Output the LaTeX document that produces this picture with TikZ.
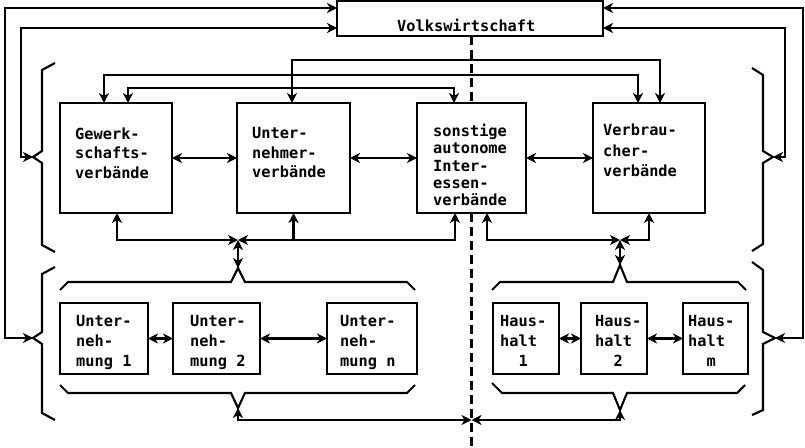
\documentclass[tikz,border=0pt]{standalone}
\usepackage{fontspec}
\newfontfamily\boxfont{DejaVu Sans Mono}[BoldFont={DejaVu Sans Mono Bold}]
\usetikzlibrary{arrows.meta,calc}
\tikzset{
  lw/.style={line width=2.1pt},
  box/.style={draw,lw,rectangle,inner sep=0pt,outer sep=0pt},
  txt/.style={inner sep=0pt,anchor=north west,align=left,font=\boxfont\bfseries\fontsize{15.3}{19.5}\selectfont},
  conn/.style={lw,line join=miter},
  dashline/.style={lw,dash pattern=on 9pt off 5pt},
}
\begin{document}
\begin{tikzpicture}[x=1pt,y=-1pt,>={Stealth[length=10pt,width=10pt,inset=3pt]}]
\useasboundingbox (0,0) rectangle (805,447);
% boxes
\node[box,minimum width=266pt,minimum height=35pt] (vw) at (470,18.5) {};
\node[box,minimum width=112pt,minimum height=110pt] (gew) at (116,158) {};
\node[box,minimum width=113pt,minimum height=110pt] (unt) at (293.5,158) {};
\node[box,minimum width=109pt,minimum height=110pt] (son) at (471.5,158) {};
\node[box,minimum width=112pt,minimum height=110pt] (ver) at (649,158) {};
\node[box,minimum width=88pt,minimum height=71pt] (u1) at (104,338.5) {};
\node[box,minimum width=87pt,minimum height=71pt] (u2) at (216.5,338.5) {};
\node[box,minimum width=90pt,minimum height=71pt] (un) at (372,338.5) {};
\node[box,minimum width=66pt,minimum height=71pt] (h1) at (526,338.5) {};
\node[box,minimum width=66pt,minimum height=71pt] (h2) at (614,338.5) {};
\node[box,minimum width=65pt,minimum height=71pt] (hm) at (715.5,338.5) {};
% texts
\node[txt,anchor=base west] (vwT) at (397,31) {Volkswirtschaft};
\node[txt] (gewT) at (75,127.5) {Gewerk-\\schafts-\\verbände};
\node[txt] (untT) at (252,127.5) {Unter-\\nehmer-\\verbände};
\node[txt,font=\boxfont\bfseries\fontsize{15.3}{17.3}\selectfont] (sonT) at (433,124) {sonstige\\autonome\\Inter-\\essen-\\verbände};
\node[txt,font=\boxfont\bfseries\fontsize{15.3}{20.5}\selectfont] (verT) at (603,124) {Verbrau-\\cher-\\verbände};
\node[txt,font=\boxfont\bfseries\fontsize{15.3}{20}\selectfont] (u1T) at (76,315) {Unter-\\neh-\\mung 1};
\node[txt,font=\boxfont\bfseries\fontsize{15.3}{20}\selectfont] (u2T) at (190,315) {Unter-\\neh-\\mung 2};
\node[txt,font=\boxfont\bfseries\fontsize{15.3}{20}\selectfont] (unT) at (340,315) {Unter-\\neh-\\mung n};
\node[txt,font=\boxfont\bfseries\fontsize{15.3}{20}\selectfont] (h1T) at (500,315) {Haus-\\halt\\\phantom{Ha}1};
\node[txt,font=\boxfont\bfseries\fontsize{15.3}{20}\selectfont] (h2T) at (595,315) {Haus-\\halt\\\phantom{Ha}2};
\node[txt,font=\boxfont\bfseries\fontsize{15.3}{20}\selectfont] (hmT) at (688,315) {Haus-\\halt\\\phantom{Ha}m};
% brace tips and junctions
\coordinate (L1) at (33,157);
\coordinate (L2) at (33,338);
\coordinate (R1) at (773,157);
\coordinate (R2) at (775,338);
\coordinate (tl) at (238,268);
\coordinate (bl) at (238,408);
\coordinate (tr) at (620,265);
\coordinate (br) at (620,410);
\coordinate (jl) at (238,240);
\coordinate (jr) at (620,240);
\coordinate (jb) at (471.5,420);
\coordinate (dend) at (471.5,447);
% braces
\draw[conn] (55,63) -- (42,70) -- (42,151) -- (L1) -- (42,163) -- (42,245) -- (55,252);
\draw[conn] (55,267) -- (42,274) -- (42,332) -- (L2) -- (42,344) -- (42,413) -- (55,420);
\draw[conn] (752,68) -- (763,75) -- (763,151) -- (R1) -- (763,163) -- (763,244) -- (752,251);
\draw[conn] (752,262) -- (763,270) -- (763,332) -- (R2) -- (763,344) -- (763,410) -- (752,415);
\draw[conn] (60,290) -- (68,282) -- (231,282) -- (tl) -- (245,282) -- (407,282) -- (415,290);
\draw[conn] (60,385) -- (68,393) -- (231,393) -- (bl) -- (245,393) -- (407,393) -- (415,385);
\draw[conn] (492,290) -- (500,282) -- (613,282) -- (tr) -- (627,282) -- (738,282) -- (746,290);
\draw[conn] (492,383) -- (502,393) -- (613,393) -- (br) -- (627,393) -- (737,393) -- (745,385);
% Volkswirtschaft connections
\draw[conn,<->] ([yshift=10.5pt]vw.west) -- ++(-332,0) |- (L2);
\draw[conn,<->] ([yshift=-9.5pt]vw.west) -- ++(-316,0) |- (L1);
\draw[conn,<->] ([yshift=10.5pt]vw.east) -- ++(200,0) |- (R2);
\draw[conn,<->] ([yshift=-9.5pt]vw.east) -- ++(182,0) |- (R1);
% top connections
\draw[conn,<->] ([xshift=-1.5pt]unt.north) -- ++(0,-43) -| ([xshift=11pt]ver.north);
\draw[conn,<->] ([xshift=-12pt]gew.north) -- ++(0,-28) -| ([xshift=-11pt]ver.north);
\draw[conn,<->] ([xshift=12pt]gew.north) -- ++(0,-15) -| ([xshift=-17.5pt]son.north);
% horizontal between upper boxes
\draw[conn,<->] (gew.east) -- (unt.west);
\draw[conn,<->] (unt.east) -- (son.west);
\draw[conn,<->] (son.east) -- (ver.west);
% horizontal between lower boxes
\draw[conn,<->] (u1.east) -- (u2.west);
\draw[conn,<->] (u2.east) -- (un.west);
\draw[conn,<->] (h1.east) -- (h2.west);
\draw[conn,<->] (h2.east) -- (hm.west);
% lower collectors
\draw[conn,<->] ([xshift=1pt]gew.south) |- (jl);
\draw[conn,<->] ([xshift=-16.5pt]son.south) |- (jl);
\draw[conn,->] (jl -| unt.south) -- (unt.south);
\draw[conn,<->] ([xshift=15.5pt]son.south) |- (jr);
\draw[conn,<->] (ver.south) |- (jr);
\draw[conn,<->] (jl) -- (tl);
\draw[conn,<->] (jr) -- (tr);
\draw[conn,<->] (bl) |- (jb);
\draw[conn,<->] (br) |- (jb);
% dashed divider
\draw[dashline] (son.north |- vw.south) -- (son.north);
\draw[dashline] (son.south) -- (dend);
\end{tikzpicture}
\end{document}
